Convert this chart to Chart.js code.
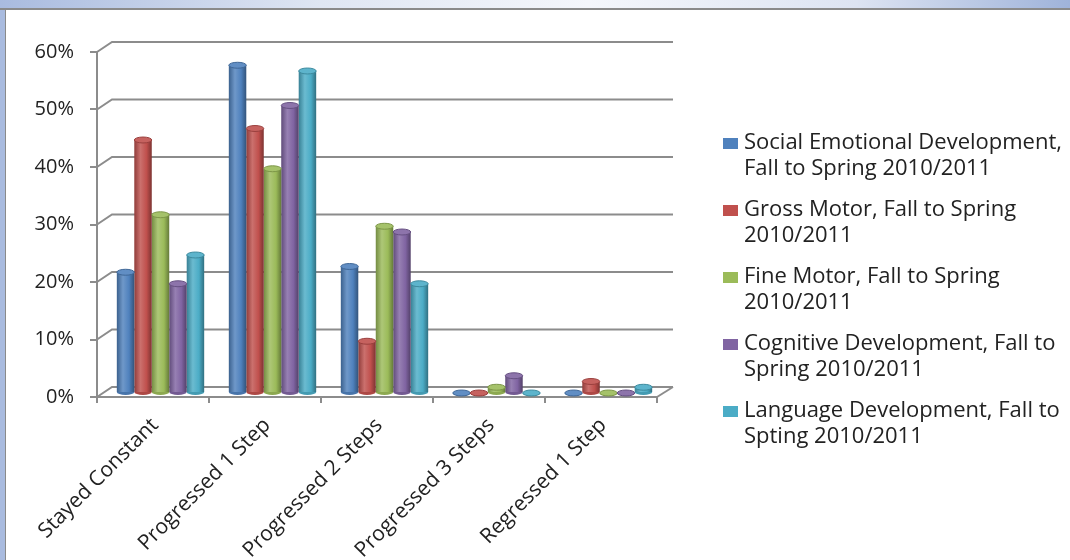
<!DOCTYPE html>
<html>
<head>
<meta charset="utf-8">
<script src="https://cdn.jsdelivr.net/npm/chart.js@4.4.1/dist/chart.umd.min.js"></script>
<style>
  html, body { margin: 0; padding: 0; background: #fff; overflow: hidden; }
  #wrap { position: relative; width: 1070px; height: 560px; }
  #topband { position: absolute; left: 0; top: 0; width: 1070px; height: 8px;
    background: linear-gradient(to right, #a9bbdf, #dfe6f3 30%, #f4f6fb 55%, #dde4f2 80%, #9fb3da);
    border-bottom: 2px solid #8a8a8a; }
  #leftband { position: absolute; left: 0; top: 10px; width: 5px; height: 550px;
    background: #a9bbdf; border-right: 1px solid #8a8a8a; }
  #chart { position: absolute; left: 0; top: 0; }
</style>
</head>
<body>
<div id="wrap">
  <div id="topband"></div>
  <div id="leftband"></div>
  <canvas id="chart" width="1070" height="560"></canvas>
</div>
<script>
// categories and values (percent)
const categories = ['Stayed Constant', 'Progressed 1 Step', 'Progressed 2 Steps', 'Progressed 3 Steps', 'Regressed 1 Step'];
const socialEmotional = [21, 57, 22, 0, 0];
const grossMotor = [44, 46, 9, 0, 2];
const fineMotor = [31, 39, 29, 1, 0];
const cognitive = [19, 50, 28, 3, 0];
const language = [24, 56, 19, 0, 1];
const yTicks = [0, 10, 20, 30, 40, 50, 60];
const seriesNames = [
    ['Social Emotional Development,', 'Fall to Spring 2010/2011'],
    ['Gross Motor, Fall to Spring', '2010/2011'],
    ['Fine Motor, Fall to Spring', '2010/2011'],
    ['Cognitive Development, Fall to', 'Spring 2010/2011'],
    ['Language Development, Fall to', 'Spting 2010/2011']
];
const seriesColors = ['#4f81bd', '#c0504d', '#9bbb59', '#8064a2', '#4bacc6'];
const seriesValues = [socialEmotional, grossMotor, fineMotor, cognitive, language];

const gridColor = '#8c8c8c';
const depthX = 15, depthY = 10;

function shade(hex, amt){
    // amt > 0 lighten, < 0 darken
    var n = parseInt(hex.slice(1), 16);
    var r = n >> 16, g = (n >> 8) & 255, b = n & 255;
    function f(c){ return Math.round(amt >= 0 ? c + (255 - c) * amt : c * (1 + amt)); }
    return 'rgb(' + f(r) + ',' + f(g) + ',' + f(b) + ')';
}

function cylinderFill(color){
    return function(c){
        var el = c.element;
        if(!el || el.width === undefined || isNaN(el.x)) return color;
        var g = c.chart.ctx.createLinearGradient(el.x - el.width / 2, 0, el.x + el.width / 2, 0);
        g.addColorStop(0, shade(color, -0.25));
        g.addColorStop(0.35, shade(color, 0.18));
        g.addColorStop(0.7, color);
        g.addColorStop(1, shade(color, -0.35));
        return g;
    };
}

// bars sit half way into the depth of the 3d box
const depthPlugin = {
    id: 'depth',
    afterDatasetsUpdate(chart){
        chart.data.datasets.forEach(function(ds, i){
            chart.getDatasetMeta(i).data.forEach(function(bar){
                bar.x += depthX / 2;
                bar.y -= 4;
                bar.base -= 4;
            });
        });
    }
};

// back wall gridlines, drawn with the 3d offset
const wallPlugin = {
    id: 'wall',
    beforeDatasetsDraw(chart){
        var ctx = chart.ctx, y = chart.scales.y, a = chart.chartArea;
        ctx.save();
        ctx.strokeStyle = gridColor;
        ctx.lineWidth = 2;
        yTicks.forEach(function(v){
            var py = y.getPixelForValue(v);
            ctx.beginPath();
            ctx.moveTo(a.left, py);
            ctx.lineTo(a.left + depthX, py - depthY);
            ctx.lineTo(a.right + depthX + 1, py - depthY);
            ctx.stroke();
        });
        ctx.beginPath();
        ctx.moveTo(a.right, a.bottom);
        ctx.lineTo(a.right + depthX + 1, a.bottom - depthY);
        ctx.stroke();
        ctx.restore();
    }
};

// round caps on the bars
const capPlugin = {
    id: 'caps',
    afterDatasetsDraw(chart){
        var ctx = chart.ctx;
        ctx.save();
        chart.data.datasets.forEach(function(ds, i){
            var color = seriesColors[i];
            chart.getDatasetMeta(i).data.forEach(function(bar){
                var rx = bar.width / 2, ry = bar.width * 0.17;
                // bottom rounding
                ctx.beginPath();
                ctx.ellipse(bar.x, bar.base, rx, ry, 0, 0, Math.PI);
                ctx.fillStyle = shade(color, -0.1);
                ctx.fill();
                // top
                ctx.beginPath();
                ctx.ellipse(bar.x, bar.y, rx, ry, 0, 0, Math.PI * 2);
                ctx.fillStyle = shade(color, 0.1);
                ctx.fill();
                ctx.strokeStyle = shade(color, -0.2);
                ctx.lineWidth = 1;
                ctx.stroke();
            });
        });
        ctx.restore();
    }
};

// legend on the right, two lines per entry
const legendPlugin = {
    id: 'sideLegend',
    afterDraw(chart){
        var ctx = chart.ctx;
        ctx.save();
        ctx.font = '22px "Open Sans"';
        ctx.textBaseline = 'middle';
        ctx.textAlign = 'left';
        seriesNames.forEach(function(lines, i){
            var y0 = 143 + i * 67;
            ctx.fillStyle = seriesColors[i];
            ctx.fillRect(723, y0 - 5, 15, 11);
            ctx.fillStyle = '#222';
            lines.forEach(function(t, j){
                ctx.fillText(t, 744, y0 + j * 26);
            });
        });
        ctx.restore();
    }
};

Chart.defaults.font.family = '"Open Sans", sans-serif';
Chart.defaults.font.size = 20;
Chart.defaults.color = '#222';

var chart = new Chart(document.getElementById('chart').getContext('2d'), {
    type: 'bar',
    data: {
        labels: categories,
        datasets: seriesValues.map(function(vals, i){
            return {
                label: seriesNames[i].join(' '),
                data: vals,
                backgroundColor: cylinderFill(seriesColors[i]),
                borderWidth: 0,
                categoryPercentage: 0.78,
                barPercentage: 1
            };
        })
    },
    options: {
        responsive: false,
        animation: false,
        layout: { padding: { left: 0, top: 52, right: 413, bottom: 0 } },
        plugins: {
            legend: { display: false },
            tooltip: { enabled: false }
        },
        scales: {
            x: {
                grid: { drawOnChartArea: false, offset: true, tickLength: 6, color: gridColor, lineWidth: 2 },
                border: { color: gridColor, width: 2 },
                ticks: { minRotation: 45, maxRotation: 45, padding: 10, labelOffset: 2, font: { size: 21 } },
                afterFit: function(s){ s.height = 163; }
            },
            y: {
                min: 0,
                max: 60,
                grid: { drawOnChartArea: false, tickLength: 7, color: gridColor, lineWidth: 2 },
                border: { color: gridColor, width: 2 },
                ticks: {
                    stepSize: 10,
                    padding: 16,
                    callback: function(v){ return v + '%'; }
                },
                afterFit: function(s){ s.width = 97; }
            }
        }
    },
    plugins: [depthPlugin, wallPlugin, capPlugin, legendPlugin]
});
// second pass so the bar gradients know where each bar is
chart.update();
</script>
</body>
</html>
